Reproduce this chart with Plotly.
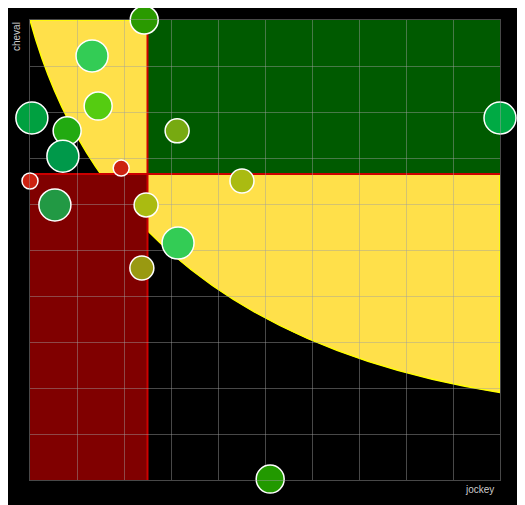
import plotly.graph_objects as go

# bubbles: jockey (x), cheval (y), diameter, colour
jockey = [24.3, 13.2, 0.4, 14.5, 7.9, 7.0, 31.3, 100, 0, 19.4, 45.1, 5.3, 24.7, 31.5, 23.8, 51.1]
cheval = [100, 92.2, 78.7, 81.3, 75.9, 70.4, 75.9, 78.7, 65, 67.8, 65, 59.8, 59.8, 51.5, 46.1, 0.2]
taille = [28, 32, 32, 28, 28, 32, 24, 32, 16, 16, 24, 32, 24, 32, 24, 28]
couleur = ['#2a9a00', '#33cc55', '#00a040', '#55cc11', '#22aa11', '#00994a', '#77aa11', '#00aa44',
           '#cc2211', '#cc2211', '#aabb11', '#229944', '#aabb11', '#33cc55', '#999911', '#229900']

seuil_x = 25
seuil_y = 66.5

fig = go.Figure()
fig.add_trace(go.Scatter(
    x=jockey, y=cheval, mode='markers', cliponaxis=False, hoverinfo='x+y',
    marker=dict(size=taille, color=couleur, opacity=1, line=dict(color='white', width=1.5)),
))

shapes = [
    # zone jaune au-dessus de la courbe
    dict(type='path', layer='below', fillcolor='#ffe04a', line=dict(color='#ffff00', width=1.5),
         path='M 0,100 C 12,55 45,28 100,19 L 100,100 Z'),
    dict(type='rect', layer='below', x0=seuil_x, x1=100, y0=seuil_y, y1=100,
         fillcolor='#005a00', line=dict(width=0)),
    dict(type='rect', layer='below', x0=0, x1=seuil_x, y0=0, y1=seuil_y,
         fillcolor='#800000', line=dict(width=0)),
    dict(type='line', layer='below', x0=seuil_x, x1=seuil_x, y0=0, y1=100, line=dict(color='#cc0000', width=2)),
    dict(type='line', layer='below', x0=0, x1=100, y0=seuil_y, y1=seuil_y, line=dict(color='#cc0000', width=2)),
]

axe = dict(range=[0, 100], dtick=10, showticklabels=False, zeroline=False,
           showgrid=True, gridcolor='rgba(160,160,160,0.45)', gridwidth=1,
           showline=True, linecolor='rgba(160,160,160,0.45)', mirror=True)

fig.update_layout(
    width=525, height=505, showlegend=False,
    paper_bgcolor='black', plot_bgcolor='black',
    margin=dict(l=22, r=33, t=12, b=33),
    xaxis=axe, yaxis=axe, shapes=shapes,
    font=dict(family='Arial, Liberation Sans', color='#cccccc', size=10),
    annotations=[
        dict(text='jockey', x=1, y=0, xref='paper', yref='paper', xanchor='right', yanchor='top',
             yshift=-2, xshift=-4, showarrow=False, font=dict(size=10, color='#cccccc')),
        dict(text='cheval', x=0, y=1, xref='paper', yref='paper', xanchor='right', yanchor='top',
             xshift=-6, textangle=-90, showarrow=False, font=dict(size=10, color='#cccccc')),
    ],
)

fig.write_html('out.html')
